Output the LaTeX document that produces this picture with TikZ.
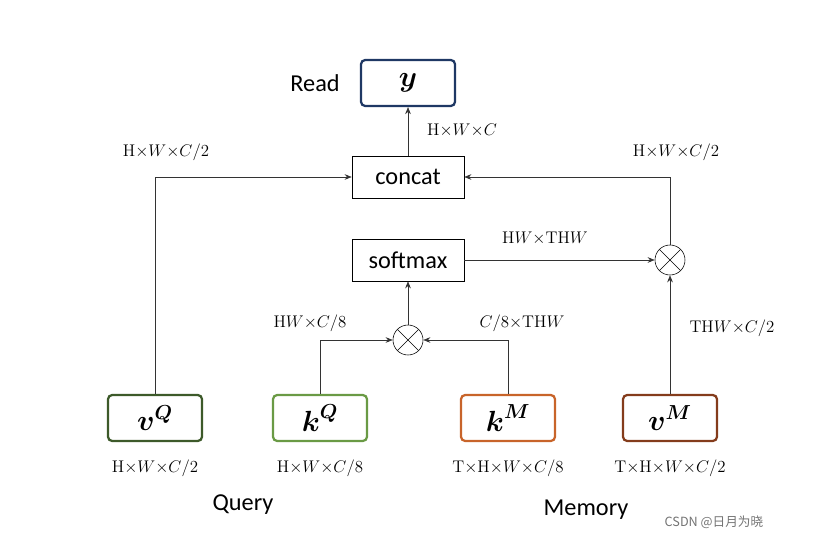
\documentclass[tikz,border=0pt]{standalone}
\usepackage{amsmath, amssymb}
\usepackage{fontspec}
\newfontfamily\sansf{Carlito}
\newfontfamily\cjk{Noto Sans CJK SC}
\usepackage{tikz}
\usetikzlibrary{positioning, arrows.meta}

\definecolor{navy}{HTML}{1F3864}
\definecolor{dgreen}{HTML}{3D5A2A}
\definecolor{lgreen}{HTML}{6A9A45}
\definecolor{orng}{HTML}{C8642A}
\definecolor{brwn}{HTML}{843C1C}

\tikzset{
    box/.style={draw, line width=1.6pt, rounded corners=3pt, minimum width=2.35cm, minimum height=1.15cm, font=\huge},
    op/.style={draw, thin, minimum width=2.8cm, minimum height=1.05cm, font=\sansf\LARGE},
    mul/.style={draw, thin, circle, minimum size=0.75cm, inner sep=0pt, path picture={
        \draw (path picture bounding box.north west) -- (path picture bounding box.south east)
              (path picture bounding box.south west) -- (path picture bounding box.north east);}},
    arr/.style={-{Stealth[length=5pt,width=4pt]}, thin, black!80},
    lbl/.style={font=\large}
}

\begin{document}
\begin{tikzpicture}[x=0.025cm, y=-0.025cm]
    \useasboundingbox (0,0) rectangle (814,544);
    % outputs
    \node[box, draw=navy] (y) at (408,83) {$\boldsymbol{y}$};
    \node[font=\sansf\LARGE] (read) at (315,83) {Read};
    \node[op] (concat) at (408,177) {concat};
    \node[op] (softmax) at (408,260) {softmax};
    \node[mul] (mr) at (670,260) {};
    \node[mul] (mb) at (408,340) {};

    % inputs
    \node[box, draw=dgreen] (vq) at (155,418) {$\boldsymbol{v}^{\boldsymbol{Q}}$};
    \node[box, draw=lgreen] (kq) at (320,418) {$\boldsymbol{k}^{\boldsymbol{Q}}$};
    \node[box, draw=orng] (km) at (508,418) {$\boldsymbol{k}^{\boldsymbol{M}}$};
    \node[box, draw=brwn] (vm) at (670,418) {$\boldsymbol{v}^{\boldsymbol{M}}$};

    % connectors
    \draw[arr] (concat) -- (y);
    \draw[arr] (vq.north) |- (concat.west);
    \draw[arr] (mr.north) |- (concat.east);
    \draw[arr] (softmax) -- (mr);
    \draw[arr] (vm) -- (mr);
    \draw[arr] (mb) -- (softmax);
    \draw[arr] (kq.north) |- (mb.west);
    \draw[arr] (km.north) |- (mb.east);

    % sizes
    \node[lbl] at (462,130) {$\mathrm{H}{\times}W{\times}C$};
    \node[lbl] at (166,152) {$\mathrm{H}{\times}W{\times}C/2$};
    \node[lbl] at (676,152) {$\mathrm{H}{\times}W{\times}C/2$};
    \node[lbl] at (545,238) {$\mathrm{H}W{\times}\mathrm{TH}W$};
    \node[lbl] at (732,328) {$\mathrm{TH}W{\times}C/2$};
    \node[lbl] at (310,323) {$\mathrm{H}W{\times}C/8$};
    \node[lbl] at (522,323) {$C/8{\times}\mathrm{TH}W$};
    \node[lbl] at (155,468) {$\mathrm{H}{\times}W{\times}C/2$};
    \node[lbl] at (320,468) {$\mathrm{H}{\times}W{\times}C/8$};
    \node[lbl] at (508,468) {$\mathrm{T}{\times}\mathrm{H}{\times}W{\times}C/8$};
    \node[lbl] at (670,468) {$\mathrm{T}{\times}\mathrm{H}{\times}W{\times}C/2$};

    \node[font=\sansf\LARGE] (query) at (243,505) {Query};
    \node[font=\sansf\LARGE] (memory) at (586,510) {Memory};
    \node[font=\cjk\small, text=black!55] (mark) at (714,522) {CSDN @日月为晓};
\end{tikzpicture}
\end{document}
